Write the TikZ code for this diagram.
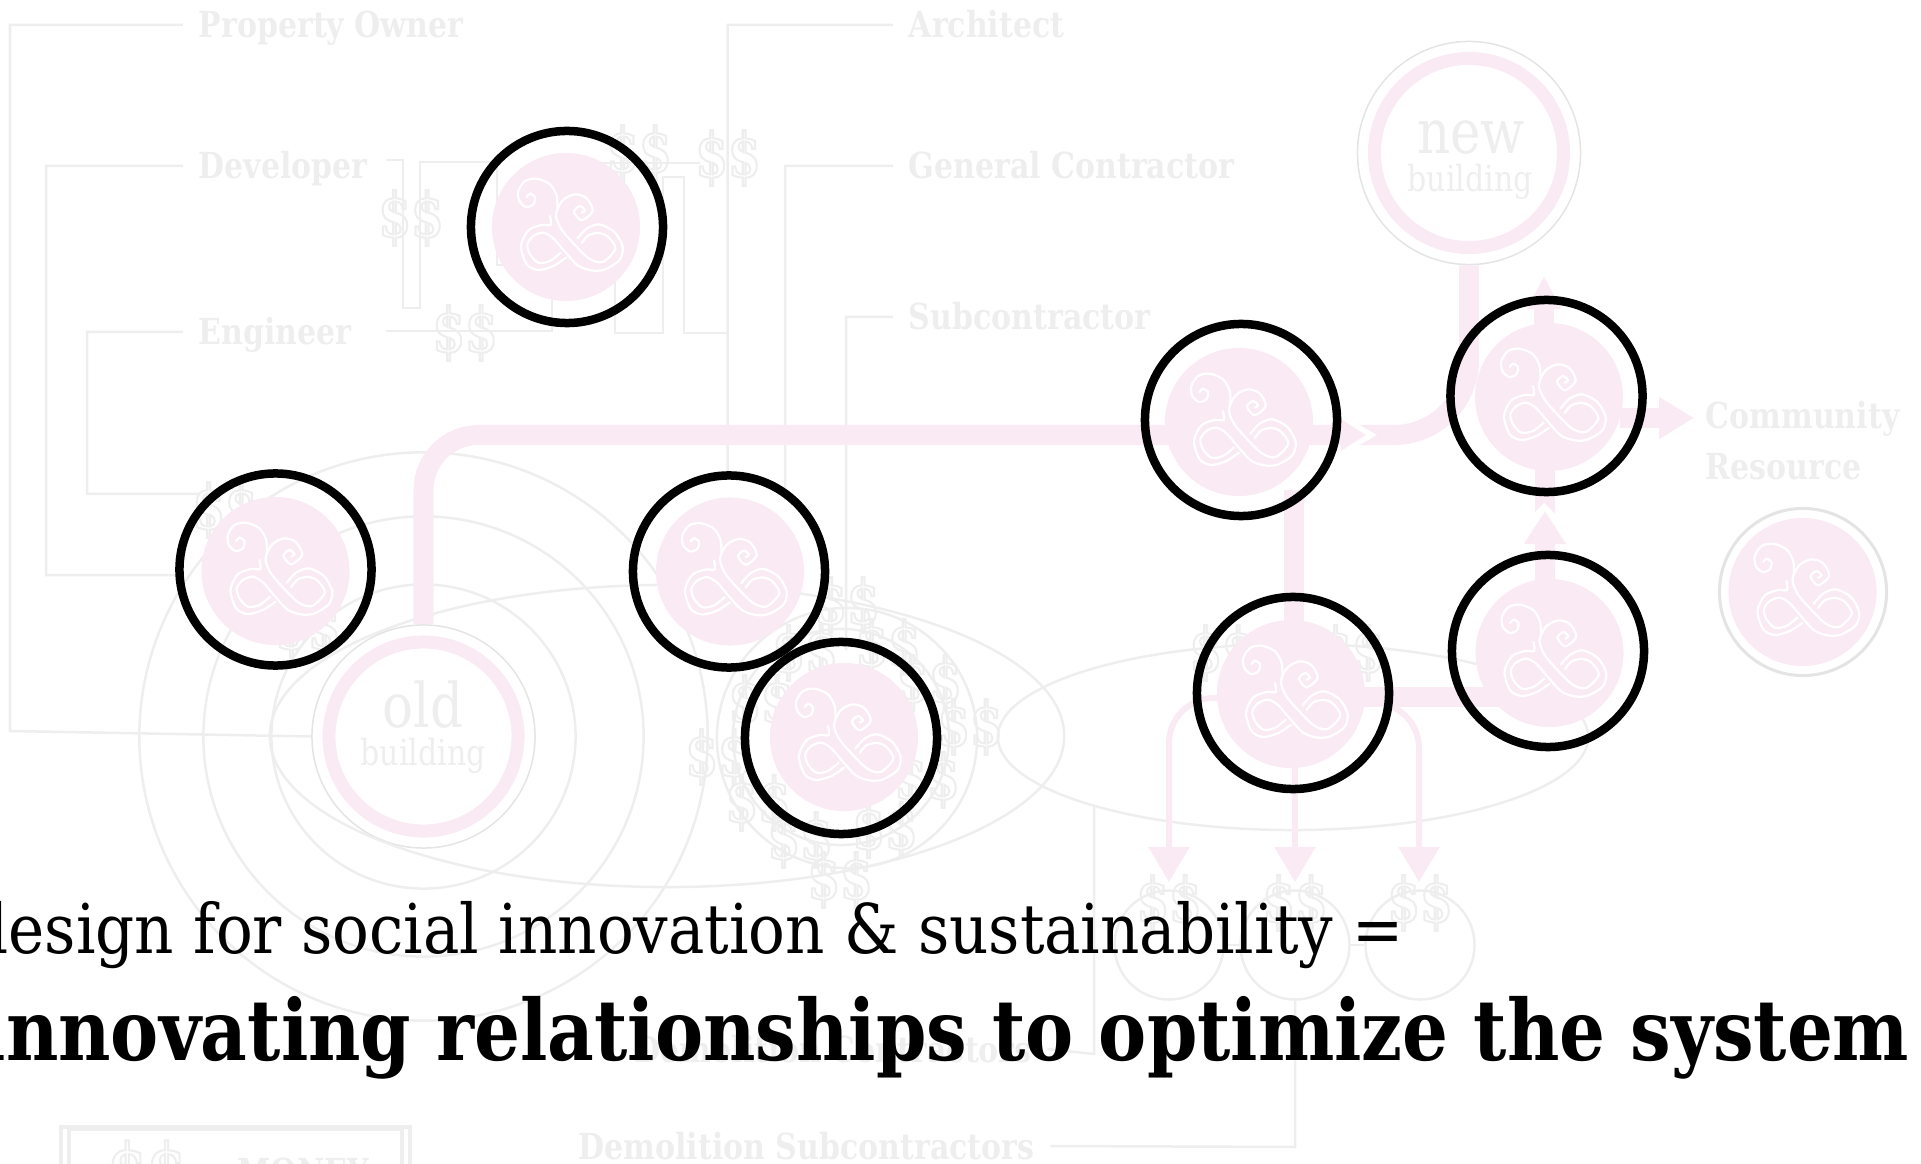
\documentclass[tikz,border=0pt]{standalone}
\usepackage{fontspec}
\usepackage{xcolor}
\setmainfont{DejaVu Serif Condensed}
\newfontfamily\labelfont[FakeStretch=.93]{DejaVu Serif Condensed}
\newfontfamily\dollarfont[FakeStretch=.85]{DejaVu Serif Condensed}
\newfontfamily\leadfont[FakeStretch=.99]{DejaVu Serif Condensed}
\newfontfamily\claimfont[FakeStretch=.95]{DejaVu Serif Condensed}
\usetikzlibrary{arrows.meta}
\definecolor{pinkflow}{HTML}{F9EAF4}
\definecolor{linegrey}{HTML}{EEEEEE}
\definecolor{ringgrey}{HTML}{E4E4E4}
\newcommand{\dollarpair}{\special{pdf:code q 1 Tr .6 w}\$\$\special{pdf:code Q}}
\tikzset{
  greyline/.style={draw=linegrey, line width=.025cm},
  grouplabel/.style={text=linegrey, font=\labelfont\bfseries\fontsize{10.2}{12}\selectfont, anchor=base west,
                     inner xsep=.15cm, inner ysep=0pt, text height=.26cm, text depth=0pt},
  dollars/.style={text=linegrey, font=\dollarfont\bfseries\fontsize{17.4}{19}\selectfont, inner sep=0pt},
  disk/.style={circle, fill=pinkflow, minimum size=1.48cm, inner sep=0pt},
  blackring/.style={circle, draw=black, line width=.085cm, minimum size=1.92cm, inner sep=0pt},
  bigring/.style={circle, draw=ringgrey, line width=.015cm, minimum size=2.23cm, inner sep=0pt},
  flowthick/.style={draw=pinkflow, line width=.2cm},
  flowthin/.style={draw=pinkflow, line width=.06cm, -{Triangle[length=.35cm,width=.4cm]}},
  pics/logomark/.style={code={
    \begin{scope}[scale=.3333, white, line width=.022cm, line cap=round]
      \draw plot[smooth] coordinates {(-118,-90) (-108,-100) (-93,-90) (-98,-68) (-120,-60) (-140,-78) (-143,-108) (-123,-138) (-88,-145) (-48,-128) (-28,-93) (-26,-55)};
      \draw plot[smooth] coordinates {(47,-43) (57,-50) (42,-63) (24,-46) (47,-20) (80,-48) (62,-86) (27,-98) (-10,-80) (-30,-38) (-15,5) (25,52) (70,95) (110,105) (148,65) (125,28) (97,18) (67,25) (47,48)};
      \draw plot[smooth] coordinates {(-48,-33) (-46,-6) (-73,-6) (-113,10) (-135,57) (-118,112) (-83,129) (-38,117) (0,92)};
      \draw plot[smooth] coordinates {(-16,77) (-48,102) (-83,107) (-108,82) (-116,52) (-98,27) (-68,17) (-38,34) (-5,72) (35,115) (75,130) (115,128) (160,100) (170,60) (145,15) (100,-8) (62,5) (34,35)};
    \end{scope}
  }}
}

\begin{document}
\begin{tikzpicture}[x=.01cm, y=-.01cm]
  \useasboundingbox (0,0) rectangle (1921,1164);

  \node[bigring] (oldb) at (423.5,736.5) {};
  \node[bigring] (newb) at (1469,153) {};
  \node[bigring, draw=ringgrey, line width=.03cm, minimum size=1.67cm] (ring9) at (1803,592) {};

  \node[grouplabel] (owner) at (183,38) {Property Owner};
  \node[grouplabel] (developer) at (183,179) {Developer};
  \node[grouplabel] (engineer) at (183,345) {Engineer};
  \node[grouplabel] (architect) at (893,38) {Architect};
  \node[grouplabel] (general) at (893,179) {General Contractor};
  \node[grouplabel] (subcontr) at (893,330) {Subcontractor};
  \node[grouplabel] (demoA) at (619,1062) {Demolition Contractors};
  \node[grouplabel] (demoB) at (563,1159) {Demolition Subcontractors};
  \node[grouplabel, inner xsep=0pt] (community) at (1705,429) {Community};
  \node[grouplabel, inner xsep=0pt] (resource) at (1705,480) {Resource};

  % ellipses
  \draw[greyline] (oldb.center) circle (2.84cm);
  \draw[greyline] (oldb.center) circle (2.20cm);
  \draw[greyline] (oldb.center) circle (1.52cm);
  \draw[greyline] (667,736) ellipse (3.97cm and 1.51cm);
  \draw[greyline] (1293,737) ellipse (2.95cm and .93cm);
  \draw[greyline] (847,738) circle (1.30cm);
  \draw[greyline] (841,737) circle (1.08cm);
  \node[circle, greyline, minimum size=1.09cm, inner sep=0pt] (payA) at (1169,945) {};
  \node[circle, greyline, minimum size=1.09cm, inner sep=0pt] (payB) at (1295,945) {};
  \node[circle, greyline, minimum size=1.09cm, inner sep=0pt] (payC) at (1420,945) {};

  % grey connectors
  \draw[greyline] (owner.west) -- (10,25) -- (10,731) -- (oldb.west);
  \draw[greyline] (developer.west) -- (46,166) -- (46,575) -- (178,575);
  \draw[greyline] (engineer.west) -- (87,332) -- (87,494) -- (200,494);
  \draw[greyline] (architect.west) -- (727.5,25) -- (727.5,480);
  \draw[greyline] (general.west) -- (785,166) -- (785,500);
  \draw[greyline] (subcontr.west) -- (846,317) -- (846,650);
  \draw[greyline] (demoA.east) -- (1094,1054) -- (1094,807);
  \draw[greyline] (demoB.east) -- (1295,1147) -- (payB.south);
  \draw[greyline] (payA.east) -- (payB.west);
  \draw[greyline] (payB.east) -- (payC.west);
  \draw[greyline] (386,160) -- (403,160) -- (403,308) -- (420,308) -- (420,162) -- (497,162) -- (497,265) -- (510,265);
  \draw[greyline] (386,331) -- (552,331) -- (552,300);
  \draw[greyline] (590,163) -- (700,163);
  \draw[greyline] (615,280) -- (615,333) -- (663,333) -- (663,177) -- (684,177) -- (684,333) -- (727.5,333);

  \foreach \dx/\dy in {639/153, 728/158, 411/218, 465/333, 225/510, 308/630, 847/605, 888/647,
      929/683, 970/727, 927/780, 885/830, 840/880, 800/840, 758/803, 718/757, 761/703, 805/653,
      1222/653, 1352/653, 1169/903, 1295/903, 1420/903}
    \node[dollars] at (\dx,\dy) {\dollarpair};

  % money box
  \draw[greyline, line width=.04cm] (61,1200) -- (61,1127) -- (410,1127) -- (410,1200);
  \draw[greyline, line width=.04cm] (69,1200) -- (69,1129) -- (402,1129) -- (402,1200);
  \node[dollars, font=\dollarfont\bfseries\fontsize{21}{23}\selectfont] (moneysign) at (147,1174) {\dollarpair};
  \node[grouplabel, inner xsep=0pt] (money) at (237,1184) {MONEY};

  % pink flows
  \draw[flowthick, rounded corners=.75cm] (newb.south) -- (1469,435) -- (1345,435);
  \fill[white] (1335,411) -- (1377,435) -- (1335,459) -- cycle;
  \draw[flowthick, rounded corners=.55cm, -{Triangle[length=.25cm,width=.3cm]}] (oldb.north) |- (1366,435);
  \draw[pinkflow, line width=.13cm] (oldb.center) circle (.945cm);
  \draw[pinkflow, line width=.13cm] (newb.center) circle (.945cm);

  \node[disk] (pk1) at (566,227) {};
  \node[disk] (pk2) at (275.5,571) {};
  \node[disk] (pk3) at (730,571.5) {};
  \node[disk] (pk4) at (844,737) {};
  \node[disk] (pk5) at (1239,422) {};
  \node[disk] (pk6) at (1549,397) {};
  \node[disk] (pk7) at (1291,694) {};
  \node[disk] (pk8) at (1549.5,653) {};
  \node[disk] (pk9) at (1802.5,592) {};

  \draw[flowthick] (1545,465) -- (1545,515);
  \fill[white] (1544,503) -- (1512,535) -- (1576,535) -- cycle;
  \draw[flowthick, -{Triangle[length=.33cm,width=.4cm]}] (1545,585) -- (1545,511);
  \draw[flowthick, -{Triangle[length=.33cm,width=.32cm]}] (1544,330) -- (1544,276);
  \draw[flowthick, -{Triangle[length=.35cm,width=.4cm]}] (1620,418) -- (1694,418);
  \draw[flowthick] (1294,490) -- (1294,625);
  \draw[flowthick] (1360,697) -- (1500,697);
  \draw[flowthin, rounded corners=.45cm] (1220,698) -| (1169,882);
  \draw[flowthin] (1295,765) -- (1295,882);
  \draw[flowthin, rounded corners=.45cm] (1360,703) -| (1419,882);

  \foreach \pk in {pk1,pk2,pk3,pk4,pk5,pk6,pk7,pk8,pk9}
    \pic at (\pk) {logomark};

  \node[text=linegrey, font=\labelfont\fontsize{17.5}{18}\selectfont, anchor=base] (oldword) at (423,727) {old};
  \node[text=linegrey, font=\labelfont\fontsize{10.2}{12}\selectfont, anchor=base] (oldsub) at (423,765) {building};
  \node[text=linegrey, font=\labelfont\fontsize{17.5}{18}\selectfont, anchor=base] (newword) at (1471,154) {new};
  \node[text=linegrey, font=\labelfont\fontsize{10.2}{12}\selectfont, anchor=base] (newsub) at (1470,192) {building};

  \node[blackring] (ring1) at (567,227) {};
  \node[blackring] (ring2) at (275.5,569.5) {};
  \node[blackring] (ring3) at (729,571.5) {};
  \node[blackring] (ring4) at (841,738) {};
  \node[blackring] (ring5) at (1241,420) {};
  \node[blackring] (ring6) at (1546.5,396) {};
  \node[blackring] (ring7) at (1293,693) {};
  \node[blackring] (ring8) at (1548,651) {};

  \node[anchor=base east, inner sep=0pt, font=\leadfont\fontsize{19.5}{22}\selectfont] (line1) at (1404,953) {design for social innovation \& sustainability =};
  \node[anchor=base east, inner sep=0pt, font=\claimfont\bfseries\fontsize{24}{28}\selectfont] (line2) at (1910,1060) {innovating relationships to optimize the system};
\end{tikzpicture}
\end{document}
